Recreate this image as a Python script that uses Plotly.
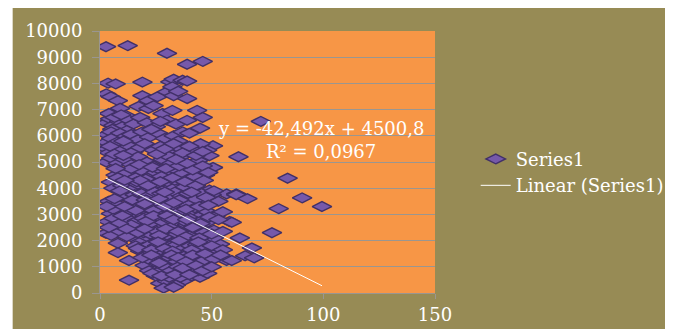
import plotly.graph_objects as go

# ---- data ----
series_x = [
    2.7, 12.4, 30, 39, 46,
    3.6, 7, 19, 31.5, 33, 37, 39,
    2.8, 4.9, 8, 19, 21.7, 25.7, 30, 32.4, 33, 39, 35,
    7, 11.5, 17.3, 21.7, 28, 32.4, 43.5, 9, 24,
    3, 4.5, 6, 8.5, 10, 13, 15, 18, 21, 25, 30, 34, 39, 44.8, 46, 72, 5.5, 12, 27,
    3, 5, 7, 9, 11, 14, 17, 19, 22, 26, 29, 33, 37, 40, 23, 35, 2.8,
    3.2, 6, 9, 12, 15, 18, 20, 24, 27, 31, 35, 38, 42, 50.6, 48, 45, 4,
    2.8, 5, 8, 11, 14, 17, 21, 24, 28, 32, 36, 41, 44, 49, 62, 50.6, 30, 19,
    4.9, 7, 12, 16, 19, 22, 25, 28, 31, 34, 37, 40, 44, 47, 84, 14, 26,
    6, 10, 14, 17, 20, 23, 26, 29, 32, 35, 38, 41, 44, 49, 56.7, 61, 12, 30,
    4, 8, 13, 16, 19, 22, 25, 28, 31, 34, 37, 40, 43, 46, 50, 61, 66, 80, 90.5, 99.4, 53, 10,
    4.9, 7, 9, 13, 17, 20, 23, 26, 29, 32, 35, 38, 41, 44, 47, 52, 55, 15,
    2.7, 3.5, 7, 11, 15, 18, 21, 24, 27, 30, 33, 36, 39, 42, 45, 48, 51, 58, 59, 77, 5, 9, 13,
    8, 15, 18, 21, 24, 27, 30, 33, 36, 39, 42, 45, 48, 53.7, 62.6, 12, 51,
    8, 18, 21, 24, 27, 30, 33, 36, 39, 42, 45, 48, 52, 56.7, 65, 68, 69, 16,
    13, 20, 24, 27, 30, 33, 36, 39, 42, 45, 48, 59, 22,
    13, 25, 27, 29, 32, 35, 38, 41, 44.8, 48, 30, 34,
    28.5, 33,
    16.5, 20.5, 24.5, 27.5, 33.5, 36.5, 39.5, 42.5,
    15.5, 18.5, 21.5, 24.5, 27.5, 30.5, 33.5, 36.5, 39.5, 42.5, 45.5,
    18.5, 21.5, 24.5, 27.5, 30.5, 33.5, 36.5, 39.5, 42.5,
    16.5, 19.5, 22.5, 25.5, 28.5, 31.5, 34.5, 37.5, 40.5, 43.5, 46.5,
    19.5, 22.5, 25.5, 28.5, 31.5, 34.5, 37.5, 40.5, 43.5, 46.5,
    19.5, 22.5, 25.5, 28.5, 31.5, 34.5, 37.5, 40.5, 43.5, 46.5,
    21.5, 25.5, 28.5, 31.5, 34.5, 37.5, 40.5, 43.5, 46.5,
    26, 29, 32, 35, 38, 41, 44, 31, 36,
    4, 6.5, 9.5, 5, 7.5, 10.5, 4.5, 6.5, 10.5, 7,
    17.5, 23.5, 29.5, 35.5, 41.5, 46,
    18, 21.5, 27, 32.5, 38, 43, 46.5, 48.5,
    14.5, 20.5, 26.5, 29, 35.5, 41, 47.5, 51,
    16, 20, 24, 29, 33, 38.5, 44.5, 48.5,
    14, 21, 24, 30, 33, 39, 45, 49, 53,
    17, 20, 26.5, 29.5, 35, 38.5, 41.5, 44.5, 50, 55,
    17, 23, 26, 29, 32.5, 35.5, 41, 44, 50, 55,
    19, 23, 26.5, 32, 35, 38.5, 41.5, 47, 51, 54,
    23.5, 27.5, 33.5, 37, 40, 43, 46, 50,
    3, 6, 8.5, 11, 12, 6.5, 4, 10,
    8, 11, 9,
    25.5, 29, 33, 37, 40, 43, 46, 39, 34,
]
series_y = [
    9400, 9440, 9150, 8730, 8840,
    8010, 7980, 8050, 8060, 8160, 8120, 8090,
    7600, 7490, 7340, 7530, 7340, 7490, 7680, 7870, 7530, 7420, 7700,
    6850, 6780, 7120, 7040, 6850, 6970, 6970, 7050, 7150,
    6500, 6650, 6400, 6550, 6350, 6600, 6450, 6700, 6500, 6350, 6600, 6450, 6590, 6290, 6700, 6550, 6250, 6200, 6550,
    6050, 6150, 5900, 6100, 5950, 6050, 5850, 6150, 5950, 6100, 5900, 6000, 6150, 6100, 6250, 5800, 5750,
    5500, 5600, 5450, 5650, 5400, 5550, 5700, 5450, 5600, 5400, 5550, 5350, 5500, 5620, 5450, 5700, 5350,
    5000, 5150, 4950, 5100, 4900, 5200, 5000, 4850, 5100, 4950, 5200, 4900, 5050, 5240, 5200, 4790, 5250, 4800,
    4230, 4500, 4600, 4400, 4650, 4450, 4600, 4350, 4550, 4700, 4400, 4600, 4230, 4500, 4380, 4750, 4750,
    4000, 4100, 3950, 4150, 3900, 4050, 4200, 3950, 4100, 3850, 4050, 4200, 3950, 3930, 3780, 3780, 3850, 4250,
    3500, 3370, 3600, 3450, 3650, 3400, 3550, 3700, 3450, 3600, 3350, 3550, 3700, 3450, 3750, 3750, 3600, 3220, 3630, 3300, 3500, 3700,
    3030, 3150, 2950, 3100, 2900, 3200, 3000, 3150, 2850, 3050, 3200, 2950, 3100, 2900, 3150, 2950, 3100, 3250,
    2280, 2730, 2500, 2650, 2400, 2600, 2450, 2700, 2500, 2350, 2650, 2450, 2600, 2350, 2550, 2700, 2400, 2730, 2700, 2300, 2200, 2350, 2800,
    1900, 2100, 1950, 2150, 1900, 2050, 2200, 1950, 2100, 1850, 2050, 2200, 1950, 1870, 2100, 2150, 2100,
    1540, 1600, 1450, 1700, 1550, 1400, 1650, 1500, 1750, 1450, 1600, 1400, 1650, 1240, 1420, 1720, 1340, 1800,
    1240, 1050, 1200, 950, 1150, 1000, 1250, 950, 1150, 1000, 1200, 1240, 850,
    490, 650, 370, 700, 550, 750, 500, 650, 600, 750, 450, 300,
    190, 220,
    4250, 4350, 4150, 4450, 4300, 4550, 4350, 4450,
    3750, 3800, 3700, 3850, 3800, 3650, 3850, 3700, 3800, 3550, 3800,
    3350, 3250, 3300, 3400, 3200, 3300, 3150, 3350, 3250,
    2750, 2850, 2650, 2900, 2700, 2800, 2900, 2750, 2850, 2700, 2800,
    2300, 2250, 2350, 2150, 2500, 2250, 2300, 2200, 2400, 2300,
    1750, 1850, 1800, 1900, 1800, 1850, 1700, 1800, 1850, 1750,
    1300, 1350, 1250, 1350, 1200, 1400, 1300, 1350, 1250,
    800, 1000, 850, 1000, 800, 900, 850, 600, 600,
    6850, 6700, 6800, 5900, 5750, 5800, 5600, 5300, 5250, 4750,
    4900, 4800, 4750, 4850, 4700, 4850,
    4300, 4100, 4250, 4400, 4250, 4100, 4300, 4600,
    3550, 3550, 3600, 3850, 3550, 3850, 3650, 3900,
    3150, 3400, 3150, 3300, 3450, 3200, 3300, 3350,
    2600, 2750, 2950, 2950, 2800, 2800, 2650, 2900, 2800,
    2300, 2450, 2200, 2450, 2350, 2150, 2500, 2100, 2250, 2350,
    1700, 1650, 1950, 1700, 1600, 2000, 1650, 1950, 1800, 1650,
    1350, 1450, 1150, 1450, 1350, 1200, 1450, 1500, 1300, 1450,
    750, 650, 700, 950, 700, 1050, 850, 1000,
    3300, 2850, 2650, 3300, 2450, 3600, 2500, 2950,
    4400, 4300, 3900,
    5300, 5500, 5700, 5350, 5600, 5250, 5400, 4950, 5100,
]

# trendline as printed on the chart
trend_slope = -42.492
trend_intercept = 4500.8
eq_text = "y = -42,492x + 4500,8"
r2_text = "R² = 0,0967"

x_ticks = [0, 50, 100, 150]
y_ticks = [0, 1000, 2000, 3000, 4000, 5000, 6000, 7000, 8000, 9000, 10000]
y_tick_text = ["0", "1000", "2000", "3000", "4000", "5000", "6000", "7000", "8000", "9000", "10000"]

# ---- styling ----
OLIVE = "#978B55"
ORANGE = "#F79646"
GRID = "#9A9690"
FONT = "DejaVu Serif, Liberation Serif, serif"
FS = 18

trend_x = [min(series_x), max(series_x)]
trend_y = [trend_slope * v + trend_intercept for v in trend_x]

fig = go.Figure()
fig.add_trace(go.Scatter(
    x=series_x, y=series_y, mode="markers", name="Series1",
    marker=dict(symbol="diamond-wide", size=14, color="#7659AA",
                line=dict(color="#413068", width=1.4)),
))
fig.add_trace(go.Scatter(
    x=trend_x, y=trend_y, mode="lines", name="Linear (Series1)",
    line=dict(color="#FFFFFF", width=1),
))

fig.add_annotation(x=99, y=6290, xref="x", yref="y", text=eq_text,
                   showarrow=False, font=dict(family=FONT, size=FS, color="white"))
fig.add_annotation(x=99, y=5400, xref="x", yref="y", text=r2_text,
                   showarrow=False, font=dict(family=FONT, size=FS, color="white"))

# thin white strip on the left edge
fig.add_shape(type="rect", xref="paper", yref="paper", x0=-1, x1=-0.2607, y0=-1, y1=2,
              fillcolor="white", line=dict(width=0), layer="above")

fig.update_layout(
    width=673, height=329,
    margin=dict(l=92, r=239, t=19, b=30),
    paper_bgcolor=OLIVE, plot_bgcolor=ORANGE,
    font=dict(family=FONT, size=FS, color="white"),
    showlegend=True,
    legend=dict(x=1.1215, xanchor="left", y=0.461, yanchor="middle",
                bgcolor="rgba(0,0,0,0)", font=dict(family=FONT, size=FS, color="white")),
    xaxis=dict(range=[0, 150], tickvals=x_ticks, showgrid=False, zeroline=False,
               showline=True, linecolor=GRID, linewidth=1,
               ticks="outside", ticklen=5, tickcolor=GRID,
               tickfont=dict(family=FONT, size=FS, color="white")),
    yaxis=dict(range=[0, 10000], tickvals=y_ticks, ticktext=y_tick_text,
               showgrid=True, gridcolor=GRID,
               gridwidth=1, zeroline=False, showline=True, linecolor=GRID, linewidth=1,
               ticks="outside", ticklen=7, tickcolor=GRID, ticklabelstandoff=6,
               tickfont=dict(family=FONT, size=FS, color="white")),
)

fig.write_html("out.html")
